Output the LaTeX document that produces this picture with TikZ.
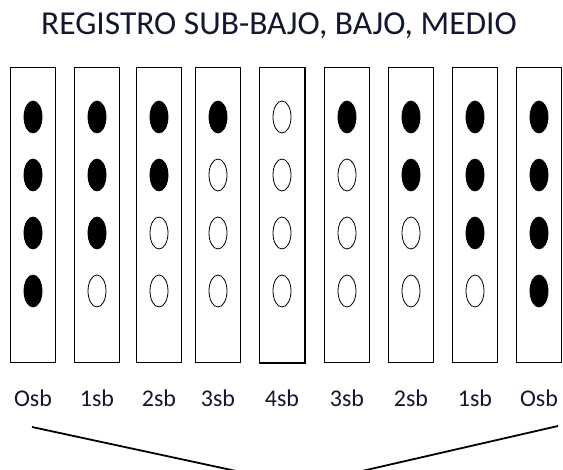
\documentclass[tikz,border=0pt]{standalone}
\usepackage{fontspec}
\setmainfont{Carlito}
\usepackage{xcolor}
\usepackage{tikz}
\usetikzlibrary{shapes.geometric}
\definecolor{titleblue}{RGB}{18,24,48}

\begin{document}
\begin{tikzpicture}[x=1pt,y=-1pt]
\tikzstyle{hole}=[ellipse,draw,line width=0.8pt,minimum width=18pt,minimum height=32pt,inner sep=0pt]
\tikzstyle{dot}=[hole,fill=black]
\tikzstyle{key}=[rectangle,draw,line width=0.8pt,minimum width=45pt,minimum height=295pt,inner sep=0pt]
\tikzstyle{lab}=[anchor=base,inner sep=0pt,text=titleblue,font=\fontsize{24}{24}\selectfont]
\useasboundingbox[fill=white] (0,0) rectangle (563,470);
\node[anchor=base,inner sep=0pt,text=titleblue,font=\fontsize{33.5}{33.5}\selectfont] (title) at (279,35) {REGISTRO SUB-BAJO, BAJO, MEDIO};
\foreach \x/\k/\txt [count=\n] in {33/4/Osb,97/3/1sb,159/2/2sb,218/1/3sb,282/0/4sb,347/1/3sb,411/2/2sb,475/3/1sb,539/4/Osb}{
  \node[key] (b\n) at (\x,215) {};
  \node[lab] (l\n) at (\x,407) {\txt};
  \foreach \r/\y in {1/117,2/175,3/233,4/291}{
    \ifnum\r>\k
      \node[hole] (d\n\r) at (\x,\y) {};
    \else
      \node[dot] (d\n\r) at (\x,\y) {};
    \fi
  }
}
\draw[line width=1.6pt] (b5.north east) -- (b5.south east) -- (b5.south west);
\coordinate (left) at (32,427);
\coordinate (right) at (558,426);
\coordinate (tip) at (301,485);
\begin{scope}
\clip (0,0) rectangle (563,470);
\draw[line width=1.8pt] (left) -- (tip) -- (right);
\end{scope}
\end{tikzpicture}
\end{document}
